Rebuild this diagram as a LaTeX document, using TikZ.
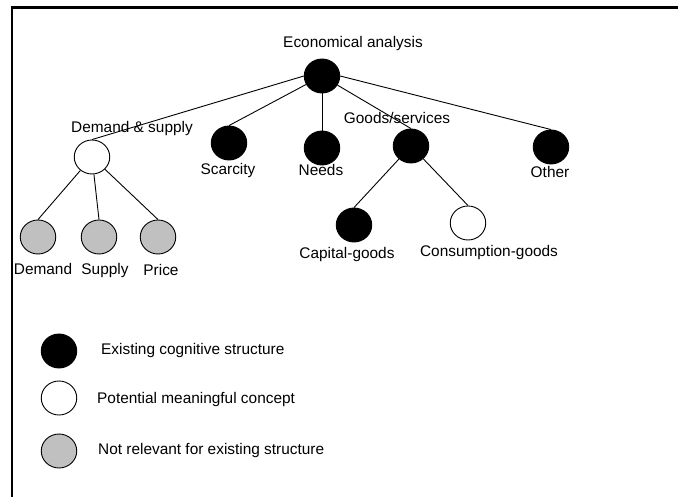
\documentclass[tikz,border=0pt]{standalone}
\usepackage{fontspec}
\setmainfont{Liberation Sans}
\usetikzlibrary{shapes.geometric}
\definecolor{silvergray}{RGB}{192,192,192}
\begin{document}
\begin{tikzpicture}[x=1pt,y=-1pt,
  concept/.style={ellipse, draw=black, line width=0.9pt, minimum width=35.5pt, minimum height=34pt, inner sep=0pt},
  known/.style={concept, fill=black},
  potential/.style={concept, fill=white},
  irrelevant/.style={concept, fill=silvergray},
  link/.style={line width=0.9pt},
  lbl/.style={inner sep=0pt, font=\fontsize{15.4pt}{18pt}\selectfont, text height=11pt, text depth=3pt},
  legendtext/.style={lbl, anchor=west}
]
\useasboundingbox (0,0) rectangle (678,497);

% frame
\draw[line width=2.4pt] (12,498) -- (12,7.5) -- (679,7.5);

% concept nodes
\node[known]      (root)  at (322,76)  {};
\node[potential]  (ds)    at (92,157)  {};
\node[known]      (scar)  at (229,143) {};
\node[known]      (needs) at (322,148) {};
\node[known]      (goods) at (411,146) {};
\node[known]      (other) at (551,147) {};
\node[known]      (cap)   at (354,225) {};
\node[potential]  (cons)  at (468,223) {};
\node[irrelevant] (dem)   at (38,237)  {};
\node[irrelevant] (sup)   at (99,237)  {};
\node[irrelevant] (pri)   at (158,237) {};

% connectors
\draw[link] (root.west) -- (ds.north);
\draw[link] (root) -- (scar.north);
\draw[link] (root.south) -- (needs.north);
\draw[link] (root) -- (goods.north);
\draw[link] (root.east) -- (other.north);
\draw[link] (ds) -- (dem.north);
\draw[link] (ds) -- (sup.north);
\draw[link] (ds) -- (pri.north);
\draw[link] (goods) -- (cap.north);
\draw[link] (goods) -- (cons.north);

% labels
\node[lbl] (lroot)  at (353,44)  {Economical analysis};
\node[lbl] (lds)    at (132,129) {Demand \& supply};
\node[lbl] (lscar)  at (228,171) {Scarcity};
\node[lbl] (lneeds) at (321,172) {Needs};
\node[lbl] (lgoods) at (397,120) {Goods/services};
\node[lbl] (lother) at (550,174) {Other};
\node[lbl] (lcap)   at (347,255) {Capital-goods};
\node[lbl] (lcons)  at (489,253) {Consumption-goods};
\node[lbl] (ldem)   at (43,271)  {Demand};
\node[lbl] (lsup)   at (105,271) {Supply};
\node[lbl] (lpri)   at (161,272) {Price};

% legend
\node[known]      (kblack) at (59,351) {};
\node[potential]  (kwhite) at (59,398) {};
\node[irrelevant] (kgray)  at (59,451) {};
\node[legendtext] (tblack) at (101,351) {Existing cognitive structure};
\node[legendtext] (twhite) at (97,399)  {Potential meaningful concept};
\node[legendtext] (tgray)  at (98,450)  {Not relevant for existing structure};
\end{tikzpicture}
\end{document}
